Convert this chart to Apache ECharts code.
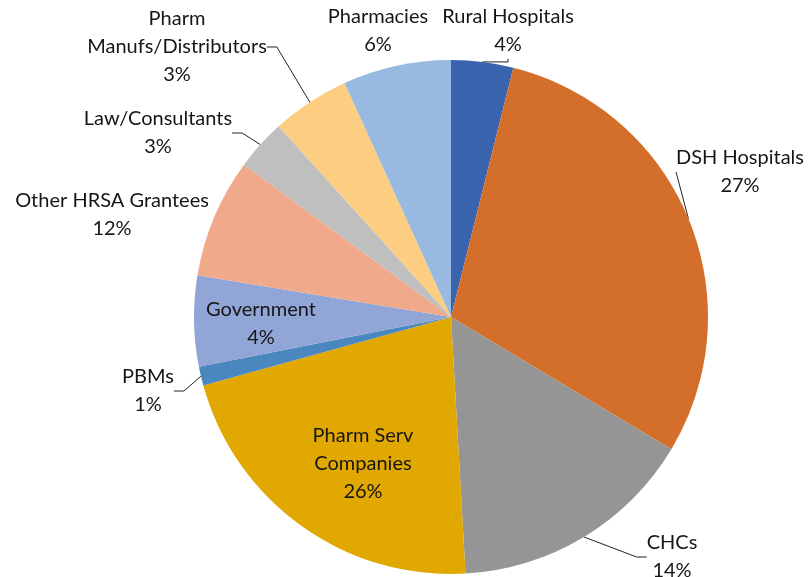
<!DOCTYPE html>
<html>
<head>
<meta charset="utf-8">
<script src="https://cdn.jsdelivr.net/npm/echarts@6/dist/echarts.min.js"></script>
<style>
  html, body { margin: 0; padding: 0; background: #fff; }
  #chart { width: 808px; height: 577px; }
</style>
</head>
<body>
<div id="chart"></div>
<script>
// 数据：扇区从12点方向顺时针排列
const categories = ['Rural Hospitals', 'DSH Hospitals', 'CHCs', 'Pharm Serv Companies', 'PBMs',
  'Government', 'Other HRSA Grantees', 'Law/Consultants', 'Pharm Manufs/Distributors', 'Pharmacies'];
const labelNames = ['Rural Hospitals', 'DSH Hospitals', 'CHCs', 'Pharm Serv\nCompanies', 'PBMs',
  'Government', 'Other HRSA Grantees', 'Law/Consultants', 'Pharm\nManufs/Distributors', 'Pharmacies'];
// 扇区大小（按图中角度估计）
const sliceValues = [3.9, 29.7, 15.5, 21.6, 1.2, 5.7, 7.5, 3.2, 4.9, 6.8];
// 标签上显示的百分比
const shownPercents = [4, 27, 14, 26, 1, 4, 12, 3, 3, 6];

const colors = ['#3A63AD', '#D46F2B', '#959595', '#E0A800', '#4A87BF',
  '#91A5D7', '#F0A98A', '#BFBFBF', '#FDCD82', '#98BAE0'];
// 标签中心位置
const labelPos = [[508, 31], [740, 172], [672, 557], [363, 464], [148, 391],
  [261, 324], [112, 215], [158, 133], [177, 47], [378, 31]];
const noLine = [3, 5, 6, 9];

let myChart = echarts.init(document.getElementById('chart'));

let seriesData = [];
for (let i in categories) {
  seriesData.push({
    name: categories[i],
    value: sliceValues[i],
    itemStyle: {color: colors[i]},
    labelLine: {show: noLine.indexOf(Number(i)) == -1}
  });
}

let option = {
  animation: false,
  series: [{
    type: 'pie',
    center: [451, 317],
    radius: 257,
    startAngle: 90,
    clockwise: true,
    avoidLabelOverlap: false,
    data: seriesData,
    itemStyle: {borderWidth: 0},
    label: {
      show: true,
      position: 'outside',
      fontFamily: 'Lato',
      fontSize: 20,
      lineHeight: 28,
      color: '#161616',
      align: 'center',
      formatter: function (p) {
        return labelNames[p.dataIndex] + '\n' + shownPercents[p.dataIndex] + '%';
      }
    },
    labelLine: {
      show: true,
      length: 10,
      length2: 10,
      lineStyle: {color: '#222', width: 1}
    },
    labelLayout: function (params) {
      let p = labelPos[params.dataIndex];
      return {x: p[0], y: p[1], align: 'center', verticalAlign: 'middle'};
    }
  }]
};

myChart.setOption(option);
</script>
</body>
</html>
